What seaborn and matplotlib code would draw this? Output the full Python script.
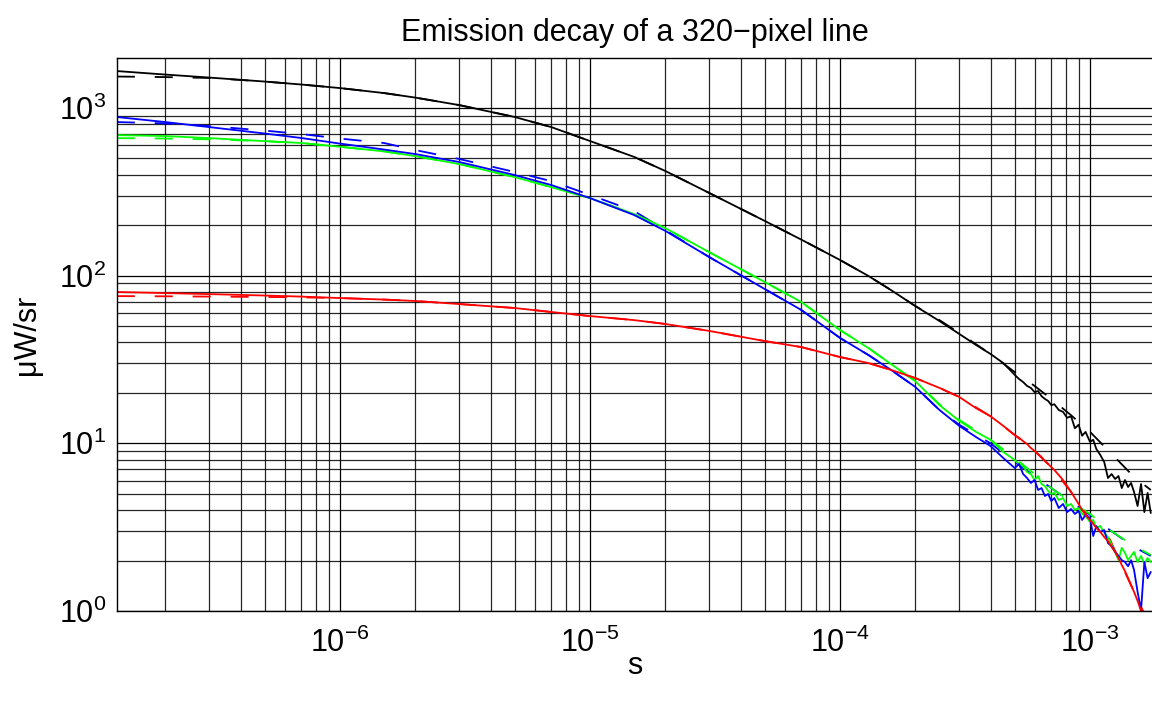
import numpy as np
import pandas as pd
import seaborn as sns
import matplotlib.pyplot as plt
from matplotlib.ticker import LogLocator, NullFormatter

# measured decay curves (time in s, intensity in uW/sr)
t_data = [1.28e-7, 2e-7, 3e-7, 5e-7, 7e-7, 1e-6, 1.5e-6, 2e-6, 3e-6, 5e-6, 7e-6,
          1e-5, 1.5e-5, 2e-5, 3e-5, 5e-5, 7e-5, 1e-4, 1.3e-4, 1.6e-4, 2e-4,
          2.5e-4, 3e-4, 3.5e-4, 4e-4, 4.5e-4,
          5.0e-4, 5.2e-4, 5.4e-4, 5.6e-4, 5.8e-4, 6.0e-4, 6.2e-4, 6.4e-4, 6.6e-4, 6.8e-4,
          7.0e-4, 7.2e-4, 7.5e-4, 7.8e-4, 8.1e-4, 8.4e-4, 8.7e-4, 9.0e-4, 9.3e-4, 9.6e-4,
          1.0e-3, 1.03e-3, 1.06e-3, 1.10e-3, 1.14e-3, 1.18e-3, 1.22e-3, 1.26e-3, 1.30e-3,
          1.34e-3, 1.38e-3, 1.42e-3, 1.46e-3, 1.50e-3, 1.55e-3, 1.60e-3, 1.65e-3, 1.70e-3,
          1.75e-3]

black = [1660, 1582, 1518, 1437, 1380, 1314, 1227, 1153, 1040, 883, 769,
         635, 511, 421, 311, 212, 164, 124, 99.5, 82, 65.9,
         53.6, 44.9, 38.6, 34.1, 30.1,
         25.6, 24.2, 23.2, 22.0, 21.4, 20.2, 20.5, 19.1, 18.4, 17.9,
         16.9, 17.1, 15.8, 15.4, 14.2, 14.5, 12.3, 12.9, 11.1, 11.7,
         10.2, 10.5, 9.25, 8.51, 7.73, 6.21, 6.56, 6.13, 6.38,
         5.41, 6.04, 5.49, 5.80, 5.13, 4.23, 5.72, 3.89, 5.06,
         3.84]

blue = [883, 824, 769, 704, 662, 613, 565, 531, 476, 398, 347,
        290, 230, 185, 129, 83.2, 62.4, 42.5, 33.6, 27.4, 21.7,
        15.8, 12.7, 10.9, 9.64, 8.17,
        7.12, 7.53, 6.56, 6.21, 5.80, 6.04, 5.27, 5.41, 4.85, 4.99,
        4.53, 4.72, 4.11, 4.35, 3.89, 4.06, 3.79, 3.95, 3.49, 3.74,
        3.59, 2.80, 3.21, 2.96, 3.04, 2.54, 2.44, 2.25, 2.13,
        2.01, 1.96, 1.85, 2.01, 1.76, 1.30, 1.01, 1.96, 1.57,
        1.71]

green = [689, 680, 661, 634, 618, 587, 551, 516, 463, 387, 337,
         290, 233, 192, 138, 91.6, 69.6, 47.4, 37.0, 29.7, 23.5,
         16.9, 13.6, 11.7, 10.5, 8.88,
         7.95, 7.53, 7.32, 6.74, 6.56, 6.04, 6.38, 5.72, 5.56, 5.20,
         4.99, 5.06, 4.59, 4.72, 4.23, 4.35, 4.00, 4.11, 3.79, 3.68,
         3.40, 3.49, 3.13, 3.21, 2.92, 2.76, 2.48, 2.25, 2.01,
         2.38, 2.22, 2.01, 2.13, 2.25, 1.96, 2.13, 1.91, 2.07,
         1.96]

red = [79.9, 78.7, 77.6, 76.1, 75.0, 73.5, 72.0, 70.6, 67.7, 64.1, 60.7,
       57.4, 54.3, 51.5, 46.8, 40.7, 37.5, 32.7, 30.1, 27.4, 24.5,
       21.4, 18.9, 16.2, 14.5, 12.7,
       11.2, 10.8, 10.3, 9.91, 9.38, 9.00, 8.63, 8.28, 7.84, 7.53,
       7.22, 6.93, 6.47, 6.04, 5.56, 5.13, 4.72, 4.35, 4.00, 3.74,
       3.49, 3.30, 3.13, 2.96, 2.76, 2.61, 2.41, 2.25, 2.07,
       1.88, 1.73, 1.57, 1.43, 1.30, 1.15, 1.0, 0.87, 0.77,
       0.70]

# fitted curves (dashed)
t_fit = [1.28e-7, 2e-7, 3e-7, 5e-7, 7e-7, 1e-6, 1.5e-6, 2e-6, 3e-6, 5e-6, 7e-6,
         1e-5, 1.5e-5, 2e-5, 3e-5, 5e-5, 7e-5, 1e-4, 1.3e-4, 1.6e-4, 2e-4,
         2.5e-4, 3e-4, 4e-4, 5e-4, 6e-4, 7e-4, 8.4e-4, 1e-3, 1.2e-3, 1.5e-3, 1.75e-3]

black_fit = [1540, 1528, 1510, 1437, 1380, 1314, 1227, 1153, 1040, 883, 769,
             635, 511, 421, 311, 212, 164, 124, 99.5, 82, 65.9,
             54.3, 45.5, 34.1, 26.6, 22.0, 18.4, 14.7, 11.7, 8.88, 6.3, 5.27]
blue_fit = [824, 809, 780, 733, 699, 657, 618, 561, 496, 415, 366,
            303, 243, 187, 129, 83.2, 62.4, 42.5, 33.6, 27.4, 21.7,
            15.8, 12.9, 10.0, 7.73, 6.38, 5.41, 4.47, 3.74, 3.04, 2.41, 2.13]
green_fit = [661, 657, 650, 634, 618, 587, 551, 516, 463, 387, 337,
             290, 233, 192, 138, 91.6, 69.6, 47.4, 37.0, 29.7, 23.5,
             17.1, 13.8, 10.5, 8.17, 6.56, 5.41, 4.47, 3.79, 3.04, 2.44, 2.16]
red_fit = [75.5, 75.3, 75.0, 74.6, 74.2, 73.5, 72.0, 70.6, 67.7, 64.1, 60.7,
           57.4, 54.3, 51.5, 46.8, 40.7, 37.5, 32.7, 30.1, 27.4, 24.5,
           21.4, 18.9, 14.5, 11.2, 9.0, 7.22, 5.13, 3.49, 2.68, 1.30, 0.8]

colors = {'black': 'black', 'blue': '#0000ff', 'green': '#00ff00', 'red': '#ff0000'}

sns.set_style('white')
plt.rcParams['font.family'] = ['Liberation Sans', 'DejaVu Sans']
plt.rcParams['font.size'] = 22
plt.rcParams['text.color'] = 'black'
plt.rcParams['axes.labelcolor'] = 'black'
plt.rcParams['xtick.color'] = 'black'
plt.rcParams['ytick.color'] = 'black'

fig = plt.figure(figsize=(11.52, 7.04), dpi=100)
ax = fig.add_axes([117 / 1152, 93 / 704, 1035 / 1152, 553 / 704])

fits = {'black': black_fit, 'blue': blue_fit, 'green': green_fit, 'red': red_fit}
data = {'green': green, 'blue': blue, 'black': black, 'red': red}

for name, vals in fits.items():
    df = pd.DataFrame({'t': t_fit, 'v': vals})
    sns.lineplot(data=df, x='t', y='v', ax=ax, color=colors[name], lw=1.3,
                 linestyle=(0, (10, 11)), estimator=None, sort=False)

for name, vals in data.items():
    df = pd.DataFrame({'t': t_data, 'v': vals})
    sns.lineplot(data=df, x='t', y='v', ax=ax, color=colors[name], lw=1.3,
                 estimator=None, sort=False)

ax.set_xscale('log')
ax.set_yscale('log')
ax.set_xlim(1.282e-7, 1.77e-3)
ax.set_ylim(1, 1986)

ax.xaxis.set_major_locator(LogLocator(base=10, numticks=20))
ax.xaxis.set_minor_locator(LogLocator(base=10, subs=np.arange(2, 10), numticks=20))
ax.yaxis.set_major_locator(LogLocator(base=10, numticks=20))
ax.yaxis.set_minor_locator(LogLocator(base=10, subs=np.arange(2, 10), numticks=20))
ax.xaxis.set_minor_formatter(NullFormatter())
ax.yaxis.set_minor_formatter(NullFormatter())

ax.set_axisbelow(True)
ax.grid(True, which='major', color='black', lw=0.9)
ax.grid(True, which='minor', color='black', lw=0.9, alpha=0.85)
ax.tick_params(which='both', direction='in', length=0)
ax.tick_params(axis='x', pad=12, labelsize=22, colors='black')
ax.tick_params(axis='y', pad=8, labelsize=22, colors='black')

for side in ['left', 'bottom', 'top']:
    ax.spines[side].set_color('black')
    ax.spines[side].set_linewidth(1.0)
ax.spines['right'].set_visible(False)

ax.set_title('Emission decay of a 320\u2212pixel line', fontsize=22, pad=12, color='black')
ax.set_xlabel('s', fontsize=22, labelpad=-6)
ax.set_ylabel('\u03bcW/sr', fontsize=22, labelpad=12)

fig.savefig('out.png', dpi=100)
plt.close(fig)
